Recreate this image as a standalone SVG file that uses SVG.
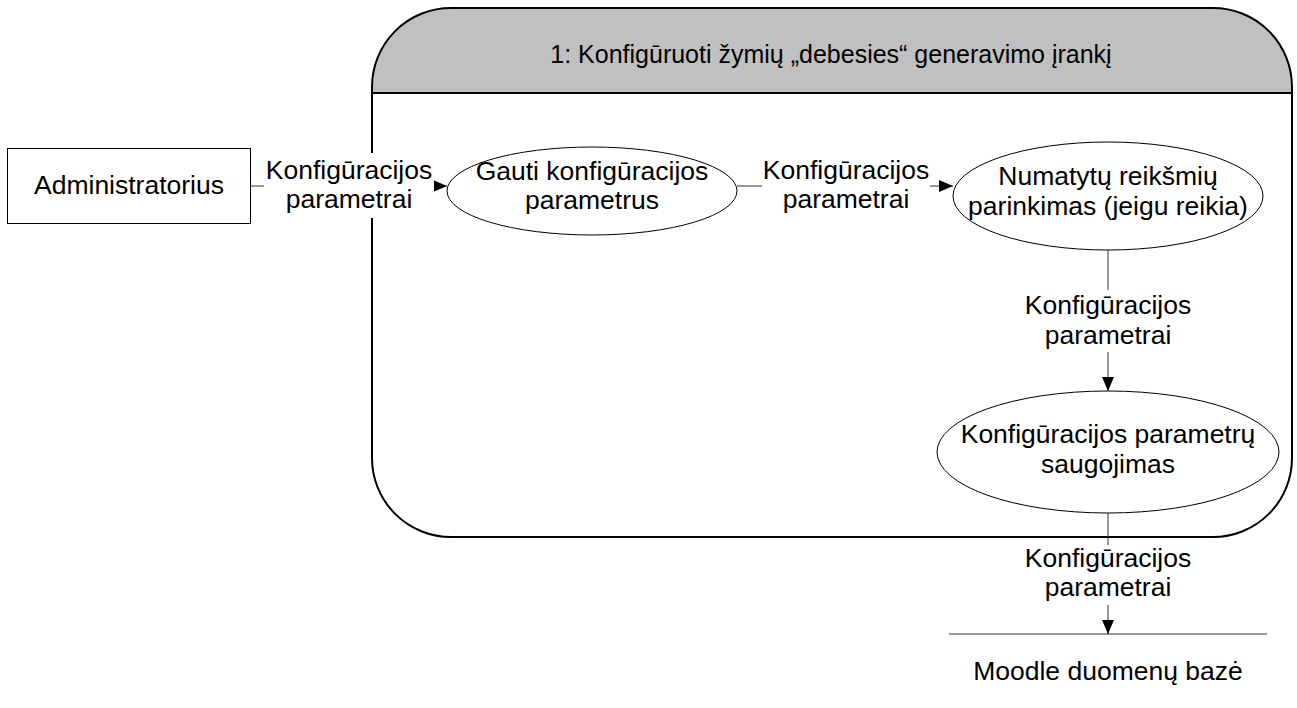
<svg xmlns="http://www.w3.org/2000/svg" width="1297" height="708" viewBox="0 0 1297 708">
  <style>
    text { font-family: "Liberation Sans", Arial, sans-serif; font-size: 26.5px; fill: #000; text-anchor: middle; }
    text.title { font-size: 25px; }
    .shape { fill: #fff; stroke: #000; stroke-width: 1; }
    .flow { fill: none; stroke: #333; stroke-width: 1; }
    .bg { fill: #fff; stroke: none; }
  </style>
  <defs>
    <marker id="arrow" viewBox="0 0 14 12" refX="14" refY="6" markerWidth="14" markerHeight="12" markerUnits="userSpaceOnUse" orient="auto">
      <path d="M0,0 L14,6 L0,12 Z" fill="#000"/>
    </marker>
  </defs>

  <!-- process boundary with titled header -->
  <g id="process">
    <rect x="0" y="0" width="1297" height="708" fill="#fff"/>
    <path d="M372,93 L372,87 A79,79 0 0 1 451,8 L1213,8 A79,79 0 0 1 1292,87 L1292,93 Z" fill="#c0c0c0"/>
    <rect x="372" y="8" width="920" height="529" rx="79" ry="79" fill="none" stroke="#000" stroke-width="2"/>
    <line x1="372" y1="93" x2="1292" y2="93" stroke="#000" stroke-width="2"/>
    <text class="title" x="831" y="63">1: Konfigūruoti žymių „debesies“ generavimo įrankį</text>
  </g>

  <!-- external entity -->
  <g id="administratorius">
    <rect class="shape" x="7.5" y="148.5" width="243" height="75"/>
    <text x="129" y="194">Administratorius</text>
  </g>

  <!-- subprocesses -->
  <g id="gauti">
    <ellipse class="shape" cx="592" cy="191" rx="145" ry="44"/>
    <text x="592" y="180">Gauti konfigūracijos</text>
    <text x="592" y="209">parametrus</text>
  </g>
  <g id="numatytos">
    <ellipse class="shape" cx="1108" cy="196" rx="155" ry="54"/>
    <text x="1108" y="185">Numatytų reikšmių</text>
    <text x="1108" y="215">parinkimas (jeigu reikia)</text>
  </g>
  <g id="saugojimas">
    <ellipse class="shape" cx="1108" cy="452" rx="171" ry="61"/>
    <text x="1108" y="443">Konfigūracijos parametrų</text>
    <text x="1108" y="473">saugojimas</text>
  </g>

  <!-- data store -->
  <g id="moodle-db">
    <line x1="949" y1="634" x2="1267" y2="634" stroke="#333" stroke-width="1"/>
    <text x="1108" y="680">Moodle duomenų bazė</text>
  </g>

  <!-- data flows -->
  <g id="flows">
    <path class="flow" d="M250,186 L265,186"/>
    <path class="flow" d="M432,186 L447,186" marker-end="url(#arrow)"/>
    <rect class="bg" x="264" y="153" width="170" height="65"/>
    <text x="349" y="179">Konfigūracijos</text>
    <text x="349" y="208">parametrai</text>

    <path class="flow" d="M737,186 L762,186"/>
    <path class="flow" d="M930,186 L953,186" marker-end="url(#arrow)"/>
    <text x="846" y="179">Konfigūracijos</text>
    <text x="846" y="208">parametrai</text>

    <path class="flow" d="M1108,250 L1108,290"/>
    <path class="flow" d="M1108,352 L1108,391" marker-end="url(#arrow)"/>
    <text x="1108" y="314">Konfigūracijos</text>
    <text x="1108" y="344">parametrai</text>

    <path class="flow" d="M1108,513 L1108,545"/>
    <path class="flow" d="M1108,605 L1108,634" marker-end="url(#arrow)"/>
    <text x="1108" y="567">Konfigūracijos</text>
    <text x="1108" y="596">parametrai</text>
  </g>
</svg>
